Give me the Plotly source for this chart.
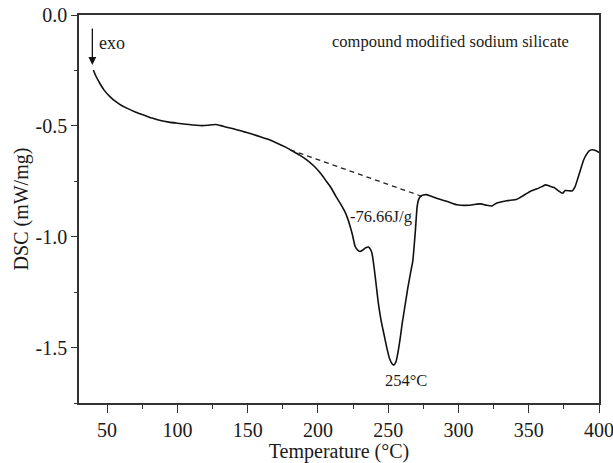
import plotly.graph_objects as go

# DSC heat-flow trace of the compound modified sodium silicate
temperature = [40.2, 42, 45, 48, 52, 56, 60, 64, 70, 76, 82, 88, 94, 100, 106, 111,
               118, 122, 127, 131, 135, 141, 147, 153, 159, 165, 171, 177, 182, 187,
               192, 197, 202, 206, 209, 213, 216, 219, 221, 223, 224.5, 226.5, 228.5,
               230, 232, 234, 236, 237.5, 238.5, 240, 241.5, 243, 245, 247, 249, 251,
               253, 254, 255.5, 257, 258.5, 260, 262, 264, 266, 267.5, 268.5, 269.5,
               270.5, 271.5, 273, 275, 277, 280, 285, 292, 299, 308, 313, 316, 320,
               324, 327, 334.5, 341.6, 346, 351, 356, 360, 362, 365, 368, 371, 374,
               376, 379, 381, 383, 385, 387, 389, 391, 393, 395, 397.5, 400]
dsc = [-0.248, -0.275, -0.31, -0.34, -0.368, -0.39, -0.407, -0.420, -0.437, -0.451,
       -0.465, -0.476, -0.483, -0.488, -0.493, -0.496, -0.499, -0.497, -0.494, -0.499,
       -0.506, -0.515, -0.526, -0.537, -0.549, -0.562, -0.578, -0.596, -0.614, -0.632,
       -0.653, -0.680, -0.715, -0.75, -0.776, -0.82, -0.851, -0.885, -0.915, -0.955,
       -0.99, -1.044, -1.062, -1.067, -1.060, -1.050, -1.047, -1.058, -1.076, -1.14,
       -1.22, -1.30, -1.38, -1.44, -1.50, -1.55, -1.575, -1.578, -1.565, -1.52,
       -1.46, -1.39, -1.31, -1.23, -1.16, -1.11, -1.04, -0.96, -0.87, -0.835,
       -0.818, -0.812, -0.81, -0.816, -0.828, -0.841, -0.856, -0.858, -0.853, -0.852,
       -0.858, -0.861, -0.849, -0.838, -0.831, -0.815, -0.796, -0.784, -0.772, -0.766,
       -0.772, -0.778, -0.792, -0.804, -0.792, -0.793, -0.793, -0.774, -0.735, -0.695,
       -0.655, -0.630, -0.613, -0.608, -0.611, -0.62]

# integration baseline under the endothermic peak
baseline_t = [180.2, 274.0]
baseline_v = [-0.608, -0.818]

# axis ticks
x_ticks = [50, 100, 150, 200, 250, 300, 350, 400]
y_ticks = [0.0, -0.5, -1.0, -1.5]
y_tick_text = ["0.0", "-0.5", "-1.0", "-1.5"]

peak_t, peak_v = 254, -1.578
enthalpy = "-76.66J/g"

FONT = "Liberation Serif"
INK = "#1a1a1a"

fig = go.Figure()
fig.add_trace(go.Scatter(x=temperature, y=dsc, mode="lines",
                         line=dict(color="#111111", width=1.6, shape="spline", smoothing=0.5),
                         hoverinfo="skip", showlegend=False))
fig.add_trace(go.Scatter(x=baseline_t, y=baseline_v, mode="lines",
                         line=dict(color="#222222", width=1.3, dash="5px,4px"),
                         hoverinfo="skip", showlegend=False))

annotations = [
    dict(x=294, y=-0.12, text="compound modified sodium silicate", showarrow=False,
         font=dict(family=FONT, size=16.5, color=INK)),
    dict(x=43, y=-0.128, text="exo", showarrow=False, xanchor="left",
         font=dict(family=FONT, size=18, color=INK)),
    dict(x=39.5, y=-0.225, ax=39.5, ay=-0.054, axref="x", ayref="y",
         text="", showarrow=True, arrowhead=2, arrowsize=1.2, arrowwidth=1.3,
         arrowcolor="#111111"),
    dict(x=244.7, y=-0.909, text=enthalpy, showarrow=False,
         font=dict(family=FONT, size=16.5, color=INK)),
    dict(x=peak_t + 8.7, y=-1.649, text=f"{peak_t}°C", showarrow=False,
         font=dict(family=FONT, size=16.5, color=INK)),
]

axis_common = dict(showgrid=False, zeroline=False, showline=True, linecolor="#333333",
                   linewidth=1.5, mirror=True, ticks="outside", tickcolor="#333333",
                   tickwidth=1.4, tickfont=dict(family=FONT, size=20, color=INK),
                   automargin=False, ticklabeloverflow="allow")

fig.update_layout(
    width=613, height=463,
    margin=dict(l=79, r=14, t=15, b=60),
    paper_bgcolor="white", plot_bgcolor="white",
    annotations=annotations,
    xaxis=dict(range=[30, 400], tickvals=x_ticks, ticklen=8,
               minor=dict(dtick=25, tick0=0, ticks="outside", ticklen=4, tickcolor="#333333"),
               title=dict(text="Temperature (°C)", standoff=8,
                          font=dict(family=FONT, size=20, color=INK)),
               **axis_common),
    yaxis=dict(range=[-1.75, 0.0], tickvals=y_ticks, ticktext=y_tick_text, ticklen=6,
               minor=dict(dtick=0.25, tick0=0, ticks="outside", ticklen=3, tickcolor="#333333"),
               title=dict(text="DSC (mW/mg)", standoff=2,
                          font=dict(family=FONT, size=20, color=INK)),
               **axis_common),
)

fig.write_html("out.html")
